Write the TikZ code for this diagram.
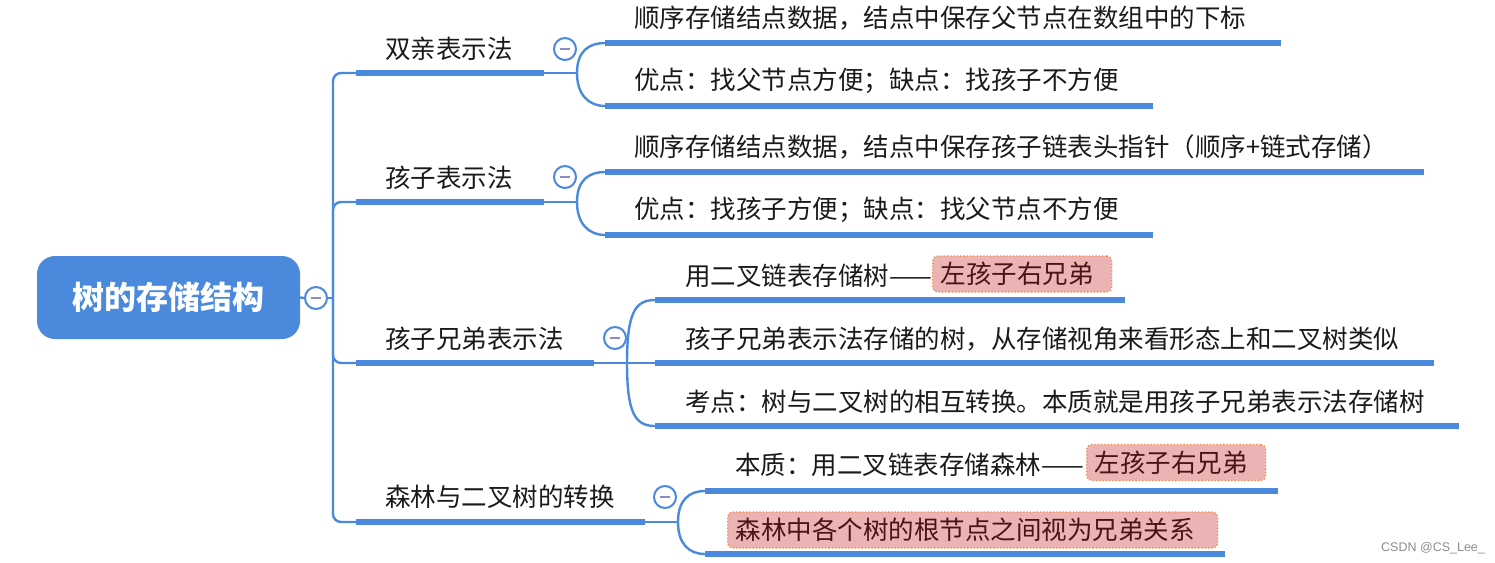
\documentclass[tikz,border=0pt]{standalone}
\usepackage{fontspec}
\setmainfont{Noto Sans CJK SC}
\newfontfamily\wmfont{Liberation Sans}
\definecolor{mblue}{HTML}{4A89DC}
\definecolor{tcol}{HTML}{1A1A1A}
\definecolor{hlfill}{HTML}{EBB3B3}
\definecolor{hlborder}{HTML}{F08A3C}
\definecolor{hltext}{HTML}{4A1414}
\definecolor{minuscol}{HTML}{8C8CC8}
\begin{document}
\begin{tikzpicture}[x=1pt,y=-1pt,
  conn/.style={draw=mblue,line width=2.4pt},
  uline/.style={draw=mblue,line width=6pt},
  txt/.style={anchor=west,inner sep=0pt,font=\fontsize{25.5}{28}\selectfont,text=tcol},
  toggle/.style={circle,draw=mblue,fill=white,line width=2pt,minimum size=22pt,inner sep=0pt},
  minusmark/.style={draw=minuscol,line width=2pt},
  root/.style={fill=mblue,rounded corners=18pt,minimum width=263pt,minimum height=83pt,inner sep=0pt,text=white,font=\fontsize{32}{36}\selectfont\bfseries},
  hl/.style={anchor=west,fill=hlfill,draw=hlborder,dotted,line width=1.3pt,rounded corners=5pt,inner xsep=8pt,inner ysep=0pt,minimum height=36pt,align=left,font=\fontsize{25.5}{28}\selectfont,text=hltext},
  wm/.style={anchor=west,inner sep=0pt,font=\wmfont\fontsize{12.5}{14}\selectfont,text=black!45}
]
\useasboundingbox (0,0) rectangle (1495,562);

% root
\node[root] (root) at (168.5,297.5) {树的存储结构};
\node[toggle] (t0) at (316,298) {};
\draw[minusmark] ([xshift=-5pt]t0.center) -- ([xshift=5pt]t0.center);
\coordinate (J) at (333,298);
\draw[conn] (root.east) -- (t0.west);
\draw[conn] (t0.east) -- (J);

% ---------- branch 1
\coordinate (b1s) at (356,73); \coordinate (b1e) at (544,73); \coordinate (f1) at (577,73);
\draw[conn,rounded corners=8pt] (J) |- (b1s);
\draw[conn] (b1e) -- (f1);
\draw[uline] (b1s) -- (b1e);
\node[txt] (b1) at (385,49) {双亲表示法};
\node[toggle] (t1) at (565,49) {};
\draw[minusmark] ([xshift=-5pt]t1.center) -- ([xshift=5pt]t1.center);
\coordinate (c11s) at (605,43); \coordinate (c11e) at (1281,43);
\coordinate (c12s) at (605,106); \coordinate (c12e) at (1153,106);
\draw[conn] (f1) .. controls +(0,-22) and +(-16,0) .. (c11s);
\draw[conn] (f1) .. controls +(0,22) and +(-16,0) .. (c12s);
\draw[uline] (c11s) -- (c11e);
\draw[uline] (c12s) -- (c12e);
\node[txt] (c11) at (634,18) {顺序存储结点数据，结点中保存父节点在数组中的下标};
\node[txt] (c12) at (634,81) {优点：找父节点方便；缺点：找孩子不方便};

% ---------- branch 2
\coordinate (b2s) at (356,202); \coordinate (b2e) at (544,202); \coordinate (f2) at (577,202);
\draw[conn,rounded corners=8pt] (J) |- (b2s);
\draw[conn] (b2e) -- (f2);
\draw[uline] (b2s) -- (b2e);
\node[txt] (b2) at (385,178) {孩子表示法};
\node[toggle] (t2) at (565,177) {};
\draw[minusmark] ([xshift=-5pt]t2.center) -- ([xshift=5pt]t2.center);
\coordinate (c21s) at (605,172); \coordinate (c21e) at (1424,172);
\coordinate (c22s) at (605,235); \coordinate (c22e) at (1153,235);
\draw[conn] (f2) .. controls +(0,-22) and +(-16,0) .. (c21s);
\draw[conn] (f2) .. controls +(0,22) and +(-16,0) .. (c22s);
\draw[uline] (c21s) -- (c21e);
\draw[uline] (c22s) -- (c22e);
\node[txt] (c21) at (634,147) {顺序存储结点数据，结点中保存孩子链表头指针（顺序+链式存储）};
\node[txt] (c22) at (634,210) {优点：找孩子方便；缺点：找父节点不方便};

% ---------- branch 3
\coordinate (b3s) at (356,363); \coordinate (b3e) at (594,363); \coordinate (f3) at (627,363);
\draw[conn,rounded corners=8pt] (J) |- (b3s);
\draw[conn] (b3e) -- (f3);
\draw[uline] (b3s) -- (b3e);
\node[txt] (b3) at (385,339) {孩子兄弟表示法};
\node[toggle] (t3) at (615,338) {};
\draw[minusmark] ([xshift=-5pt]t3.center) -- ([xshift=5pt]t3.center);
\coordinate (c31s) at (655,300); \coordinate (c31e) at (1125,300);
\coordinate (c32s) at (655,363); \coordinate (c32e) at (1434,363);
\coordinate (c33s) at (655,426); \coordinate (c33e) at (1459,426);
\draw[conn] (f3) .. controls +(0,-50) and +(-20,0) .. (c31s);
\draw[conn] (f3) -- (c32s);
\draw[conn] (f3) .. controls +(0,50) and +(-20,0) .. (c33s);
\draw[uline] (c31s) -- (c31e);
\draw[uline] (c32s) -- (c32e);
\draw[uline] (c33s) -- (c33e);
\node[hl,text width=163pt] (h1) at (932,274) {左孩子右兄弟};
\node[txt] (c31) at (685,276) {用二叉链表存储树——};
\node[txt] (c32) at (685,339) {孩子兄弟表示法存储的树，从存储视角来看形态上和二叉树类似};
\node[txt] (c33) at (685,402) {考点：树与二叉树的相互转换。本质就是用孩子兄弟表示法存储树};

% ---------- branch 4
\coordinate (b4s) at (356,522); \coordinate (b4e) at (645,522); \coordinate (f4) at (678,522);
\draw[conn,rounded corners=8pt] (J) |- (b4s);
\draw[conn] (b4e) -- (f4);
\draw[uline] (b4s) -- (b4e);
\node[txt] (b4) at (385,497) {森林与二叉树的转换};
\node[toggle] (t4) at (665,497) {};
\draw[minusmark] ([xshift=-5pt]t4.center) -- ([xshift=5pt]t4.center);
\coordinate (c41s) at (705,491); \coordinate (c41e) at (1278,491);
\coordinate (c42s) at (705,554); \coordinate (c42e) at (1225,554);
\draw[conn] (f4) .. controls +(0,-22) and +(-16,0) .. (c41s);
\draw[conn] (f4) .. controls +(0,22) and +(-16,0) .. (c42s);
\draw[uline] (c41s) -- (c41e);
\draw[uline] (c42s) -- (c42e);
\node[hl,text width=163pt] (h2) at (1086,462.5) {左孩子右兄弟};
\node[txt] (c41) at (735,465) {本质：用二叉链表存储森林——};
\node[hl,text width=474pt] (c42) at (727,530) {森林中各个树的根节点之间视为兄弟关系};

% watermark
\node[wm] (w) at (1381,548) {CSDN @CS\_Lee\_};
\end{tikzpicture}
\end{document}
